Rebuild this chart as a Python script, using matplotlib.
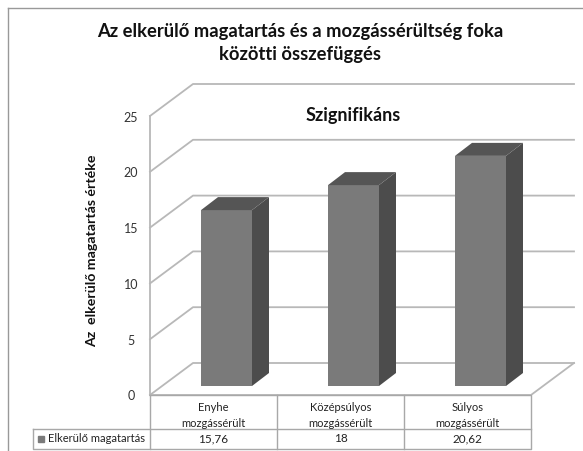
import matplotlib
matplotlib.use('Agg')
import matplotlib.pyplot as plt
from matplotlib.patches import Polygon

categories = ['Enyhe\nmozgássérült', 'Középsúlyos\nmozgássérült', 'Súlyos\nmozgássérült']
values = [15.76, 18, 20.62]
value_labels = ['15,76', '18', '20,62']
y_ticks = [0, 5, 10, 15, 20, 25]

W, H = 583, 451
CAT_PX = 127.0   # one category in pixels
VAL_PX = 11.16   # one value unit in pixels
X0, Y0 = 150, 395

plt.rcParams['font.family'] = ['Lato', 'DejaVu Sans']

fig = plt.figure(figsize=(W / 100, H / 100), dpi=100)
ax = fig.add_axes([0, 0, 1, 1])
ax.set_xlim(-0.5 - X0 / CAT_PX, -0.5 + (W - X0) / CAT_PX)
ax.set_ylim(-(H - Y0) / VAL_PX, Y0 / VAL_PX)
ax.axis('off')
xmin, xmax = ax.get_xlim()
ymin, ymax = ax.get_ylim()

dx = 43 / CAT_PX     # wall depth
dy = 32 / VAL_PX
bdx = 17 / CAT_PX    # bar depth
bdy = 13 / VAL_PX
bar_w = 51 / CAT_PX
bar_shift = 13 / CAT_PX
bar_base = 9 / VAL_PX
n = len(categories)
left, right = -0.5, n - 0.5
wall_right = right + dx
grid = '#b8b8b8'

# walls and floor
for t in y_ticks:
    ax.plot([left, left + dx, wall_right], [t, t + dy, t + dy], color=grid, lw=1.3)
ax.plot([left, left], [0, 25], color=grid, lw=1.3)
ax.plot([left, right, wall_right], [0, 0, dy], color=grid, lw=1.3)

# bars
for i, v in enumerate(values):
    x1 = i + bar_shift - bar_w / 2
    x2 = x1 + bar_w
    b = bar_base
    top = v + bar_base
    ax.add_patch(Polygon([(x1, b), (x2, b), (x2, top), (x1, top)], fc='#7a7a7a', ec='none', zorder=3))
    ax.add_patch(Polygon([(x2, b), (x2 + bdx, b + bdy), (x2 + bdx, top + bdy), (x2, top)], fc='#4c4c4c', ec='none', zorder=3))
    ax.add_patch(Polygon([(x1, top), (x2, top), (x2 + bdx, top + bdy), (x1 + bdx, top + bdy)], fc='#555555', ec='none', zorder=3))

# y tick labels
for t in y_ticks:
    ax.text(left - 19 / CAT_PX, t - 1.5 / VAL_PX, str(t), ha='center', va='center', fontsize=9, color='#333333')

# data table
row1 = -34 / VAL_PX
row2 = -54 / VAL_PX
head = left - 117 / CAT_PX
line = '#a8a8a8'
ax.plot([left, right, right, left, left], [0, 0, row2, row2, 0], color=line, lw=1, zorder=2)
ax.plot([head, right], [row1, row1], color=line, lw=1)
ax.plot([head, head, left], [row1, row2, row2], color=line, lw=1)
for i in range(1, n):
    ax.plot([i - 0.5, i - 0.5], [0, row2], color=line, lw=1)
for i, (c, s) in enumerate(zip(categories, value_labels)):
    ax.text(i, -20.5 / VAL_PX, c, ha='center', va='center', fontsize=8, color='#222222', linespacing=1.45)
    ax.text(i, (row1 + row2) / 2, s, ha='center', va='center', fontsize=8.5, color='#222222')
ax.text(head + 15 / CAT_PX, (row1 + row2) / 2, 'Elkerülő magatartás', ha='left', va='center', fontsize=8, color='#222222')
ax.plot([head + 8 / CAT_PX], [(row1 + row2) / 2], 's', color='#7a7a7a', ms=5)

# titles
ax.text(xmin + 300 / CAT_PX, ymax - 43 / VAL_PX,
        'Az elkerülő magatartás és a mozgássérültség foka\nközötti összefüggés',
        ha='center', va='center', fontsize=13.2, fontweight='bold', color='#111111', linespacing=1.45)
ax.text(xmin + 353 / CAT_PX, 25.0, 'Szignifikáns', ha='center', va='center', fontsize=13, fontweight='bold', color='#111111')
ax.text(xmin + 92 / CAT_PX, ymax - 251 / VAL_PX, 'Az  elkerülő magatartás értéke', rotation=90,
        ha='center', va='center', fontsize=10.2, fontweight='bold', color='#111111')

# outer chart border
ax.plot([xmin + 8 / CAT_PX, xmin + 8 / CAT_PX], [ymin, ymax - 8 / VAL_PX], color='#999999', lw=1)
ax.plot([xmin + 8 / CAT_PX, xmax], [ymax - 8 / VAL_PX, ymax - 8 / VAL_PX], color='#999999', lw=1)

fig.savefig('out.png', dpi=100)
